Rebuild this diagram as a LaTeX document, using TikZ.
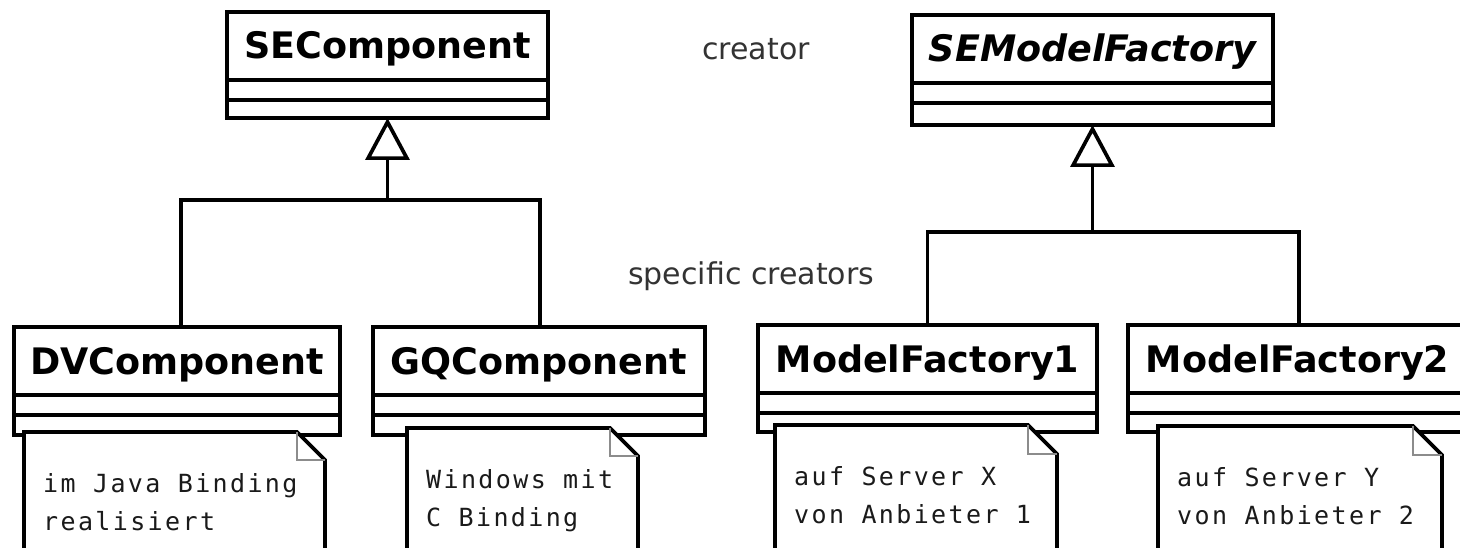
\documentclass[tikz,border=0pt]{standalone}
\usepackage{fontspec}
\usetikzlibrary{arrows.meta}

\newfontfamily\classfont{DejaVu Sans}
\newfontfamily\labelfont{DejaVu Sans}
\newfontfamily\notefont{DejaVu Sans Mono}[LetterSpace=9.5]

\definecolor{labelgray}{HTML}{333333}
\definecolor{notetext}{HTML}{1A1A1A}
\definecolor{foldgray}{HTML}{8C8C8C}

\tikzset{
  classframe/.style={draw=black, line width=4pt, fill=white, inner sep=0pt, outer sep=0pt},
  divider/.style={line width=3.4pt},
  classname/.style={font=\classfont\bfseries\fontsize{36.5}{40}\selectfont, anchor=base, inner sep=0pt},
  abstractname/.style={font=\classfont\bfseries\itshape\fontsize{36.5}{40}\selectfont},
  notebody/.style={inner sep=0pt, outer sep=0pt, anchor=north west},
  noteline/.style={draw=black, fill=white, line width=3.8pt, line join=miter},
  foldline/.style={draw=foldgray, line width=2.4pt},
  notetextstyle/.style={font=\notefont\fontsize{25}{30}\selectfont, text=notetext, anchor=base west, inner sep=0pt},
  tag/.style={font=\labelfont\fontsize{30}{36}\selectfont, text=labelgray, anchor=base west, inner sep=0pt},
  assoc/.style={line width=3.7pt},
  inherit/.style={line width=3.7pt, -{Triangle[open, length=42pt, width=44pt, line join=miter]}},
}

% class box: name, centre x, top y, width, height, extra title style, title
\newcommand\umlclass[7]{%
  \node[classframe, minimum width=#4pt, minimum height=#5pt, anchor=north] (#1) at (#2,#3) {};
  \draw[divider] ([yshift=-68pt]#1.north west) -- ([yshift=-68pt]#1.north east);
  \draw[divider] ([yshift=-88pt]#1.north west) -- ([yshift=-88pt]#1.north east);
  \node[classname,#6] (#1-name) at ([yshift=-47pt]#1.north) {#7};
}

% note with a folded corner: name, left, top, width, fold size, first line, second line
\newcommand\umlnote[7]{%
  \node[notebody, minimum width=#4pt, minimum height=160pt] (#1) at (#2,#3) {};
  \draw[noteline] (#1.south west) -- (#1.north west) -- ([xshift=-#5pt]#1.north east)
    -- ([yshift=-#5pt]#1.north east) -- (#1.south east);
  \draw[foldline] ([xshift=-#5pt]#1.north east) |- ([yshift=-#5pt]#1.north east);
  \node[notetextstyle] (#1-l1) at ([xshift=19pt,yshift=-60pt]#1.north west) {#6};
  \node[notetextstyle] (#1-l2) at ([xshift=19pt,yshift=-98pt]#1.north west) {#7};
}

\begin{document}
\begin{tikzpicture}[x=1pt, y=-1pt]
  \clip (0,0) rectangle (1460,548);
  \fill[white] (0,0) rectangle (1460,548);

  % components
  \umlclass{sec}{387.5}{12}{321}{106}{}{SEComponent}
  \umlclass{dv}{177}{327}{326}{108}{}{DVComponent}
  \umlclass{gq}{539}{327}{332}{108}{}{GQComponent}

  % factories
  \umlclass{smf}{1092.5}{15}{361}{110}{abstractname}{SEModelFactory}
  \umlclass{mfa}{927.5}{325}{339}{107}{}{ModelFactory1}
  \umlclass{mfb}{1297.5}{325}{339}{107}{}{ModelFactory2}

  % generalisation trees
  \coordinate (j1) at ([yshift=-82pt]sec.south);
  \draw[assoc] ([xshift=4pt]dv.north) |- (j1);
  \draw[assoc] ([xshift=1pt]gq.north) |- (j1);
  \draw[inherit] (j1) -- (sec.south);

  \coordinate (j2) at ([yshift=-107pt]smf.south);
  \draw[assoc] (mfa.north) |- (j2);
  \draw[assoc] ([xshift=1.5pt]mfb.north) |- (j2);
  \draw[inherit] (j2) -- (smf.south);

  % notes
  \umlnote{dvnote}{24}{432}{301}{28}{im Java Binding}{realisiert}
  \umlnote{gqnote}{407}{428}{231}{28}{Windows mit}{C Binding}
  \umlnote{mfanote}{775}{425}{282}{29}{auf Server X}{von Anbieter 1}
  \umlnote{mfbnote}{1158}{426}{284}{29}{auf Server Y}{von Anbieter 2}

  % role labels
  \node[tag] (creator) at (702,60) {creator};
  \node[tag] (specific) at (628,285) {specific creators};
\end{tikzpicture}
\end{document}
